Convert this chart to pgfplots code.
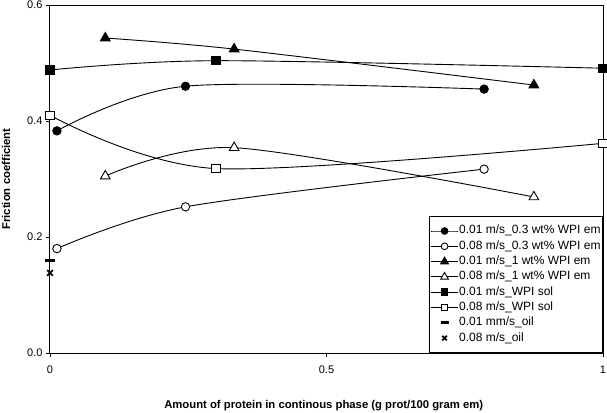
\documentclass[border=0pt]{standalone}
\usepackage{fontspec}
\setmainfont{Liberation Sans}
\usepackage{pgfplots}
\pgfplotsset{compat=1.18}
\usetikzlibrary{plotmarks}

\begin{document}
\begin{tikzpicture}[x=1pt,y=1pt]
\useasboundingbox (0,0) rectangle (607,412);
\begin{axis}[
  at={(50pt,59pt)}, anchor=south west,
  scale only axis, width=553pt, height=348pt,
  xmin=0, xmax=1, ymin=0, ymax=0.6,
  xtick={0,0.5,1}, ytick={0,0.2,0.4,0.6},
  xticklabels={0,0.5,1},
  yticklabel style={/pgf/number format/.cd,fixed,fixed zerofill,precision=1},
  /pgf/number format/assume math mode=true,
  tick align=outside, tick pos=left,
  major tick length=4pt,
  axis line style={line width=1pt},
  tick style={line width=0.9pt,black},
  ticklabel style={font=\fontsize{11}{12}\selectfont},
  xticklabel style={yshift=-5pt},
  xlabel={\bfseries Amount of protein in continous phase (g prot/100 gram em)},
  ylabel={\bfseries Friction coefficient},
  label style={font=\fontsize{11.3}{12}\selectfont},
  xlabel style={at={(axis description cs:0.495,0)},anchor=base,yshift=-55pt},
  ylabel style={at={(axis description cs:-0.0723,0.5)},anchor=base},
  legend style={at={(1,0)},anchor=south east,draw=black,line width=0.8pt,fill=white,
    font=\fontsize{12}{12}\selectfont,row sep=3.3pt,inner xsep=1.5pt,inner ysep=8.5pt,
    nodes={inner xsep=0.6pt,inner ysep=0pt,text height=9pt,text depth=3pt},
    legend cell align=left},
  legend image code/.code={\draw[mark repeat=2,mark phase=2,#1,every mark/.append style={scale=0.8}]
    plot coordinates {(0pt,0pt) (13.5pt,0pt) (27pt,0pt)};},
  every axis plot/.append style={line width=0.9pt,black},
]
\addplot[smooth,tension=0.5,mark=*,mark size=4.2pt,mark options={fill=black}]
  coordinates {(0.0125,0.383) (0.245,0.460) (0.785,0.455)};
\addlegendentry{0.01 m/s\_0.3 wt\% WPI em}
\addplot[smooth,tension=0.5,mark=*,mark size=4.2pt,mark options={fill=white}]
  coordinates {(0.0125,0.180) (0.245,0.252) (0.785,0.317)};
\addlegendentry{0.08 m/s\_0.3 wt\% WPI em}
\addplot[smooth,tension=0.5,mark=triangle*,mark size=5.6pt,mark options={fill=black}]
  coordinates {(0.1,0.543) (0.333,0.524) (0.875,0.462)};
\addlegendentry{0.01 m/s\_1 wt\% WPI em}
\addplot[smooth,tension=0.5,mark=triangle*,mark size=5.6pt,mark options={fill=white}]
  coordinates {(0.1,0.305) (0.333,0.354) (0.875,0.269)};
\addlegendentry{0.08 m/s\_1 wt\% WPI em}
\addplot[smooth,tension=0.5,mark=square*,mark size=4.2pt,mark options={fill=black}]
  coordinates {(0,0.488) (0.3,0.504) (1,0.491)};
\addlegendentry{0.01 m/s\_WPI sol}
\addplot[smooth,tension=0.5,mark=square*,mark size=4.2pt,mark options={fill=white}]
  coordinates {(0,0.410) (0.3,0.318) (1,0.3615)};
\addlegendentry{0.08 m/s\_WPI sol}
\addplot[only marks,mark=-,mark size=5pt,mark options={line width=2.6pt}]
  coordinates {(0,0.160)};
\addlegendentry{0.01 mm/s\_oil}
\addplot[only marks,mark=x,mark size=4pt,mark options={line width=1.8pt}]
  coordinates {(0,0.138)};
\addlegendentry{0.08 m/s\_oil}
\end{axis}
\end{tikzpicture}
\end{document}
